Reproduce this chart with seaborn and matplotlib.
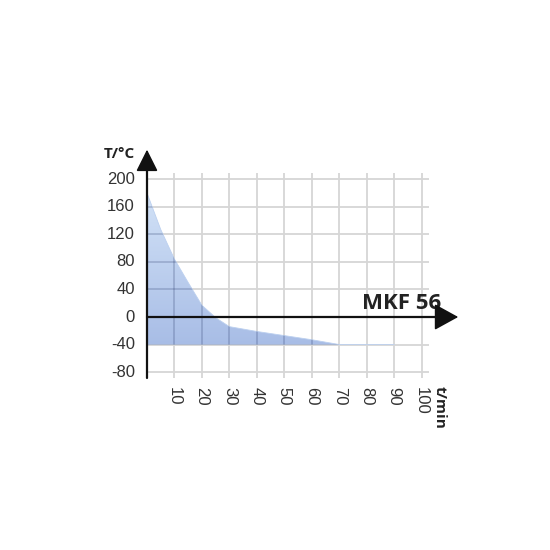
import numpy as np
import matplotlib
matplotlib.use("Agg")
import matplotlib.pyplot as plt
from matplotlib.path import Path as MplPath
from matplotlib.patches import PathPatch
import seaborn as sns
import pandas as pd

# cooling curve
time_min = [0, 5, 10, 15, 20, 25, 30, 40, 50, 60, 70, 80, 90]
temp_c = [180, 127, 84, 50, 17, -1, -14, -21, -27, -33, -40, -40, -40]
x_ticks = [10, 20, 30, 40, 50, 60, 70, 80, 90, 100]
y_ticks = [200, 160, 120, 80, 40, 0, -40, -80]
base_temp = -40
model_label = "MKF 56"

sns.set_style("white")
plt.rcParams["font.family"] = ["Liberation Sans", "DejaVu Sans"]

fig = plt.figure(figsize=(5.5, 5.5), dpi=100)
# axes covers pixels x 100..470, y 130..400 (from top)
ax = fig.add_axes([100 / 550, 150 / 550, 370 / 550, 270 / 550])
px_x = 10 / 27.47
px_y = 40 / 27.55
xlim = ((100 - 147) * px_x, (470 - 147) * px_x)
ylim = (-(400 - 317) * px_y, (317 - 130) * px_y)

df = pd.DataFrame({"t": time_min, "T": temp_c})

# plain grey grid underneath
ax.hlines(y_ticks, 0, 102.5, color="#d6d6d6", lw=1.3, zorder=0)
ax.vlines(x_ticks, -88.5, 209, color="#d6d6d6", lw=1.3, zorder=0)

# gradient fill between curve and base
grad = np.linspace(0, 1, 256).reshape(-1, 1)
cmap = matplotlib.colors.LinearSegmentedColormap.from_list("g", ["#a8bde6", "#d2e2f7"])
img = ax.imshow(grad, cmap=cmap, aspect="auto", origin="lower",
                extent=[0, 90, base_temp, 180], zorder=1)
verts = [(0, base_temp)] + list(zip(time_min, temp_c)) + [(90, base_temp), (0, base_temp)]
clip = PathPatch(MplPath(verts), transform=ax.transData, facecolor="none", edgecolor="none")
ax.add_patch(clip)
img.set_clip_path(clip)
sns.lineplot(data=df, x="t", y="T", ax=ax, color="#bcd0ef", lw=0.6, zorder=1, legend=False)

# grid seen through the fill is darker
hl = ax.hlines(y_ticks, 0, 102.5, color="#203060", alpha=0.22, lw=1.3, zorder=2)
vl = ax.vlines(x_ticks, -88.5, 209, color="#203060", alpha=0.22, lw=1.3, zorder=2)
hl.set_clip_path(clip)
vl.set_clip_path(clip)

ax.set_xlim(*xlim)
ax.set_ylim(*ylim)
ax.axis("off")

# axes with arrows
axis_col = "#111111"
ax.plot([0, 0], [-88.5, 235], color=axis_col, lw=1.6, zorder=4)
ax.annotate("", xy=(0, 247), xytext=(0, 225),
            arrowprops=dict(arrowstyle="-|>,head_length=0.9,head_width=0.45",
                            color=axis_col, lw=1.2, mutation_scale=15), zorder=4)
ax.plot([0, 106], [0, 0], color=axis_col, lw=1.6, zorder=4)
ax.annotate("", xy=(114.3, 0), xytext=(101, 0),
            arrowprops=dict(arrowstyle="-|>,head_length=1.0,head_width=0.55",
                            color=axis_col, lw=1.2, mutation_scale=15), zorder=4)

lab_col = "#333333"
for v in y_ticks:
    ax.text(-4.4, v, str(v), ha="right", va="center", fontsize=12, color=lab_col)
for v in x_ticks:
    ax.text(v, -101, str(v), ha="center", va="top", rotation=-90, fontsize=12, color=lab_col)

bold_fam = ["Open Sans", "DejaVu Sans"]
ax.text(-4.4, 237, "T/°C", ha="right", va="center", fontsize=11, fontweight="bold",
        color="#222222", family=bold_fam)
ax.text(106.5, -100, "t/min", ha="center", va="top", rotation=-90, fontsize=11,
        fontweight="bold", color="#222222", family=bold_fam)
ax.text(107, 4, model_label, ha="right", va="bottom", fontsize=16, fontweight="bold",
        color="#222222", family=bold_fam)

fig.savefig("out.png", dpi=100)
